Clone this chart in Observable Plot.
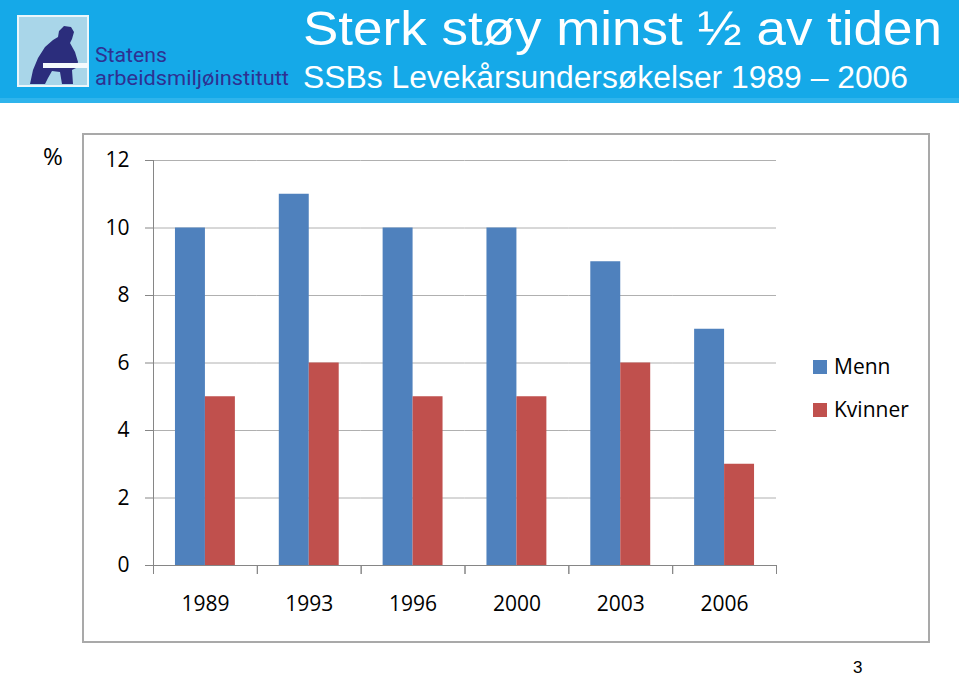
<!DOCTYPE html>
<html>
<head>
<meta charset="utf-8">
<script src="https://cdn.jsdelivr.net/npm/d3@7"></script>
<script src="https://cdn.jsdelivr.net/npm/@observablehq/plot@0.6"></script>
<style>
  html, body { margin: 0; padding: 0; background: #fff; }
  body { width: 959px; height: 678px; overflow: hidden; position: relative; font-family: "Open Sans", sans-serif; }
  #frame { position: absolute; left: 82px; top: 133px; width: 848px; height: 510px; box-sizing: border-box; border: 2px solid #a9a9a9; }
  #chart { position: absolute; left: 0; top: 140px; }
  #legend { position: absolute; left: 813px; top: 353px; }
  #overlay { position: absolute; left: 0; top: 0; pointer-events: none; }
  #legend .lg-swatches { font-family: "Open Sans", sans-serif !important; font-size: 21px !important; color: #000 !important; margin: 0 !important; }
  #legend .lg-swatch { padding-bottom: 0 !important; margin: 0 0 16px 0 !important; height: 27px; line-height: 27px; }
  #legend .lg-swatch > svg { margin-right: 7px !important; }
</style>
</head>
<body>
<div id="frame"></div>
<div id="chart"></div>
<div id="legend"></div>
<svg id="overlay" width="959" height="678" xmlns="http://www.w3.org/2000/svg">
  <rect x="0" y="0" width="959" height="103" fill="#15a9e8"/>
  <rect x="0" y="98" width="959" height="5" fill="#2fb4ec"/>
  <!-- logo -->
  <rect x="17" y="15" width="72" height="72" fill="#eaf6fb"/>
  <rect x="19" y="17" width="68" height="68" fill="#a9d6e9"/>
  <path d="M30 84 L33 70 L38 58 L45 47 L53 40 L58 37 L59 31 L64 26 L71 27 L74 32 L72 39 L70 43 L75 52 L78 62 L76 68 L72 70 L73 84 L62 84 L60 72 L52 71 L48 78 L45 84 Z" fill="#2b2d7c"/>
  <rect x="43" y="63" width="45" height="5" fill="#f4fafd"/>
  <text x="95" y="62" font-family="Roboto, sans-serif" font-size="21" fill="#2e3192" textLength="72" lengthAdjust="spacingAndGlyphs">Statens</text>
  <text x="95" y="85" font-family="Roboto, sans-serif" font-size="21" fill="#2e3192" textLength="194" lengthAdjust="spacingAndGlyphs">arbeidsmiljøinstitutt</text>
  <!-- titles -->
  <text x="303" y="45" font-family="'Liberation Sans', Arial, sans-serif" font-size="49" fill="#fff" textLength="639" lengthAdjust="spacingAndGlyphs">Sterk støy minst ½ av tiden</text>
  <text x="303" y="88" font-family="'Liberation Sans', Arial, sans-serif" font-size="31" fill="#fff" textLength="605" lengthAdjust="spacingAndGlyphs">SSBs Levekårsundersøkelser 1989 – 2006</text>
  <text x="43" y="165" font-family="'Open Sans', sans-serif" font-size="24" fill="#000">%</text>
  <text x="853" y="673" font-family="'Liberation Sans', Arial, sans-serif" font-size="17" fill="#000">3</text>
</svg>
<script>
// ---- data ----
const years = ["1989", "1993", "1996", "2000", "2003", "2006"];
const series = ["Menn", "Kvinner"];
const menn = [10, 11, 10, 10, 9, 7];
const kvinner = [5, 6, 5, 5, 6, 3];
const yTicks = [0, 2, 4, 6, 8, 10, 12];
const colors = ["#4f81bd", "#c0504d"];

const data = years.flatMap((year, i) => [
  {year, sex: series[0], value: menn[i]},
  {year, sex: series[1], value: kvinner[i]}
]);

const W = 959, H = 485, mT = 20, mB = 60, mL = 153, mR = 183;
const innerH = H - mT - mB;
const axisColor = "#868686";

const chart = Plot.plot({
  width: W,
  height: H,
  marginTop: mT,
  marginBottom: mB,
  marginLeft: mL,
  marginRight: mR,
  style: {fontFamily: "'Open Sans', sans-serif", fontSize: "21px", color: "#000", background: "transparent", overflow: "visible"},
  facet: {data, x: "year"},
  fx: {domain: years, paddingInner: 0, paddingOuter: 0, round: false, label: null},
  x: {domain: series, paddingInner: 0, paddingOuter: 0.733, round: false, axis: null},
  y: {domain: [0, 12], label: null},
  color: {domain: series, range: colors},
  marks: [
    Plot.ruleY(yTicks.filter(d => d > 0), {stroke: "#b0b0b0", strokeWidth: 1}),
    Plot.barY(data, {x: "sex", y: "value", fill: "sex"}),
    Plot.frame({anchor: "bottom", stroke: axisColor}),
    Plot.frame({anchor: "left", stroke: axisColor, facetAnchor: "left"}),
    Plot.frame({anchor: "left", stroke: axisColor, insetTop: innerH, insetBottom: -8}),
    Plot.frame({anchor: "right", stroke: axisColor, insetTop: innerH, insetBottom: -8}),
    Plot.axisY({ticks: yTicks, tickSize: 8, tickPadding: 16, stroke: axisColor, fill: "#000", fontSize: 21, label: null}),
    Plot.axisFx({anchor: "bottom", tickSize: 0, tickPadding: 31, fontSize: 21, fill: "#000", label: null})
  ]
});
document.getElementById("chart").appendChild(chart);

const legend = chart.legend("color", {columns: 1, swatchSize: 14, className: "lg"});
document.getElementById("legend").appendChild(legend);
</script>
</body>
</html>
